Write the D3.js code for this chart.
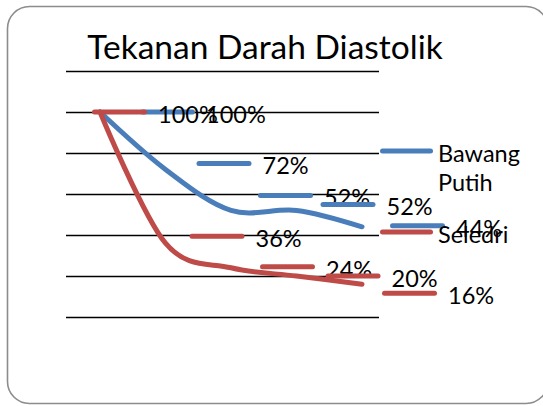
<!DOCTYPE html>
<html>
<head>
<meta charset="utf-8">
<script src="https://cdn.jsdelivr.net/npm/d3@7"></script>
<style>
  body { margin: 0; background: #fff; }
  svg text { font-family: Lato, "Open Sans", sans-serif; fill: #000; }
</style>
</head>
<body>
<div id="chart"></div>
<script>
let w = 543;
let h = 406;

// data
const categories = ["1", "2", "3", "4", "5"];
const bawangPutih = [1.00, 0.72, 0.52, 0.52, 0.44];
const seledri = [1.00, 0.36, 0.24, 0.20, 0.16];
const yTicks = [0, 0.2, 0.4, 0.6, 0.8, 1.0, 1.2];
const seriesNames = ["Bawang Putih", "Seledri"];
const seriesColors = ["#4A7EBB", "#BE4B48"];

// where each data label (key + text) sits, relative to its point
const blueLabelOffsets = [[40, 0], [31, -6], [27, -15], [24, -6], [28, -1]];
const redLabelOffsets = [[-8, 0], [24, -7], [29, -1], [29, 0], [20, 9]];

let svg = d3.select("#chart")
    .append("svg")
    .attr("width", w)
    .attr("height", h);

// outer frame
svg.append("rect")
    .attr("x", 7.5)
    .attr("y", 6.5)
    .attr("width", 540.5)
    .attr("height", 397)
    .attr("rx", 22)
    .attr("fill", "#fff")
    .attr("stroke", "#8c8c8c")
    .attr("stroke-width", 1.6);

svg.append("text")
    .attr("x", 265)
    .attr("y", 59)
    .attr("text-anchor", "middle")
    .style("font-size", "33.5px")
    .text("Tekanan Darah Diastolik");

let xScale = d3.scalePoint()
    .domain(categories)
    .range([100, 362]);

let yScale = d3.scaleLinear()
    .domain([0, 1.2])
    .range([317, 71]);

// gridlines
let yAxis = d3.axisLeft(yScale)
    .tickValues(yTicks)
    .tickSize(-(379 - 66))
    .tickFormat("");

svg.append("g")
    .attr("class", "y axis")
    .attr("transform", "translate(66,0)")
    .call(yAxis)
    .call(g => g.select(".domain").remove())
    .call(g => g.selectAll(".tick line").attr("stroke", "#000").attr("stroke-width", 1.4));

let line = d3.line()
    .x((d, i) => xScale(categories[i]))
    .y(d => yScale(d))
    .curve(d3.curveCatmullRom.alpha(0));

[bawangPutih, seledri].forEach((vals, s) => {
    svg.append("path")
        .datum(vals)
        .attr("d", line)
        .attr("fill", "none")
        .attr("stroke", seriesColors[s])
        .attr("stroke-width", 5)
        .attr("stroke-linecap", "round")
        .attr("stroke-linejoin", "round");
});

function keyAndText(g, x, y, color, label) {
    g.append("line")
        .attr("x1", x + 2.5)
        .attr("x2", x + 52.5)
        .attr("y1", y)
        .attr("y2", y)
        .attr("stroke", color)
        .attr("stroke-width", 5)
        .attr("stroke-linecap", "round");
    g.append("text")
        .attr("x", x + 66)
        .attr("y", y + 2)
        .attr("dominant-baseline", "central")
        .style("font-size", "23.5px")
        .text(label);
}

// data labels, Excel style with legend key in front
let labels = svg.append("g");
[[bawangPutih, blueLabelOffsets], [seledri, redLabelOffsets]].forEach(([vals, offs], s) => {
    vals.forEach((v, i) => {
        let px = xScale(categories[i]);
        let py = yScale(v);
        keyAndText(labels, px + offs[i][0], py + offs[i][1], seriesColors[s], d3.format(".0%")(v));
    });
});

// legend
let legend = svg.append("g");
legend.append("line")
    .attr("x1", 382.5).attr("x2", 430.5)
    .attr("y1", 151).attr("y2", 151)
    .attr("stroke", seriesColors[0])
    .attr("stroke-width", 5)
    .attr("stroke-linecap", "round");
legend.append("text")
    .attr("x", 438).attr("y", 153)
    .attr("dominant-baseline", "central")
    .style("font-size", "23.5px")
    .text(seriesNames[0].split(" ")[0]);
legend.append("text")
    .attr("x", 438).attr("y", 182)
    .attr("dominant-baseline", "central")
    .style("font-size", "23.5px")
    .text(seriesNames[0].split(" ")[1]);
legend.append("line")
    .attr("x1", 382.5).attr("x2", 430.5)
    .attr("y1", 232).attr("y2", 232)
    .attr("stroke", seriesColors[1])
    .attr("stroke-width", 5)
    .attr("stroke-linecap", "round");
legend.append("text")
    .attr("x", 438).attr("y", 234)
    .attr("dominant-baseline", "central")
    .style("font-size", "23.5px")
    .text(seriesNames[1]);
</script>
</body>
</html>
